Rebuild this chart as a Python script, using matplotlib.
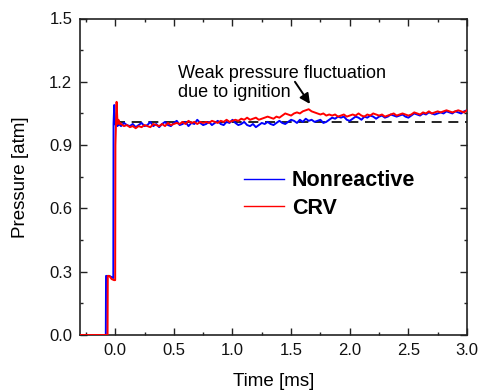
import numpy as np
import matplotlib
matplotlib.use("Agg")
import matplotlib.pyplot as plt
from matplotlib.lines import Line2D

plt.rcParams['font.family'] = ['Liberation Sans', 'DejaVu Sans']

# ---- data ----
# initial step portions (time [ms], pressure [atm])
t_step_nonreactive = [-0.3, -0.08, -0.078, -0.05, -0.016, -0.014, -0.008, -0.002, 0.004, 0.012, 0.02, 0.03, 0.04]
p_step_nonreactive = [0.0, 0.0, 0.28, 0.28, 0.27, 1.0, 1.09, 1.02, 0.995, 1.01, 0.99, 1.005, 0.995]

t_step_crv = [-0.3, -0.065, -0.063, -0.05, -0.03, -0.01, 0.0, 0.002, 0.012, 0.02, 0.028, 0.036, 0.044]
p_step_crv = [0.0, 0.0, 0.28, 0.28, 0.265, 0.26, 0.26, 0.9, 1.105, 1.0, 1.02, 1.0, 1.005]

# sampled portion, 0.05 .. 3.0 ms every 0.025 ms
t_sample = np.linspace(0.05, 3.0, 119)

p_nonreactive = [
    0.99, 1.005, 0.995, 0.99, 1.0, 0.985, 0.995, 1.005, 0.99,
    0.995, 1.01, 0.99, 1.0, 0.985, 1.0, 1.01, 0.995, 0.99, 1.005,
    1.015, 0.995, 1.0, 1.01, 0.99, 1.005, 1.0, 1.02, 1.005, 0.995,
    1.0, 1.01, 0.995, 1.005, 1.015, 1.0, 0.995, 1.01, 1.005, 1.02,
    1.005, 0.995, 1.0, 1.01, 0.995, 0.99, 1.0, 0.985, 0.995, 1.005,
    1.0, 1.01, 1.0, 0.995, 1.005, 1.015, 1.005, 1.0, 1.01, 1.02,
    1.015, 1.005, 1.02, 1.01, 1.025, 1.015, 1.02, 1.01, 1.015, 1.02,
    1.005, 1.01, 1.02, 1.03, 1.025, 1.035, 1.03, 1.035, 1.02, 1.015,
    1.025, 1.035, 1.03, 1.02, 1.035, 1.03, 1.04, 1.035, 1.025, 1.035,
    1.04, 1.03, 1.035, 1.045, 1.04, 1.035, 1.04, 1.045, 1.035, 1.03,
    1.04, 1.05, 1.045, 1.04, 1.05, 1.045, 1.055, 1.05, 1.045, 1.05,
    1.055, 1.05, 1.06, 1.055, 1.05, 1.06, 1.055, 1.05, 1.06, 1.065,
]

p_crv = [
    1.0, 0.99, 0.995, 0.985, 0.99, 0.98, 0.99, 0.985, 0.995,
    0.99, 0.985, 1.0, 0.995, 0.99, 1.0, 0.99, 1.005, 0.995, 1.0,
    1.005, 1.0, 1.01, 1.0, 1.015, 1.005, 1.01, 1.0, 1.01, 1.005,
    1.01, 1.005, 1.015, 1.01, 1.005, 1.015, 1.01, 1.02, 1.01, 1.015,
    1.02, 1.015, 1.025, 1.02, 1.03, 1.02, 1.025, 1.03, 1.02, 1.025,
    1.03, 1.035, 1.03, 1.025, 1.035, 1.03, 1.04, 1.05, 1.045, 1.04,
    1.05, 1.055, 1.05, 1.06, 1.065, 1.07, 1.06, 1.055, 1.05, 1.045,
    1.05, 1.04, 1.045, 1.04, 1.045, 1.035, 1.04, 1.045, 1.035, 1.04,
    1.045, 1.04, 1.05, 1.04, 1.035, 1.045, 1.04, 1.05, 1.045, 1.04,
    1.045, 1.035, 1.04, 1.045, 1.05, 1.04, 1.045, 1.05, 1.045, 1.04,
    1.045, 1.055, 1.05, 1.045, 1.055, 1.05, 1.06, 1.05, 1.055, 1.06,
    1.055, 1.06, 1.065, 1.06, 1.055, 1.06, 1.065, 1.06, 1.055, 1.065,
]

reference_level = 1.01
reference_span = [0.0, 3.0]

series_labels = ["Nonreactive", "CRV"]
series_colors = ["#0000ff", "#ff0000"]

# ---- figure ----
fig = plt.figure(figsize=(4.8, 3.9), dpi=100)
ax = fig.add_axes([80/480, 1-335/390, 387/480, 316.5/390])

ax.plot(reference_span, [reference_level, reference_level], color='black',
        lw=1.2, dashes=(6, 4), zorder=1)

t_nr = np.concatenate([t_step_nonreactive, t_sample])
p_nr = np.concatenate([p_step_nonreactive, p_nonreactive])
t_cr = np.concatenate([t_step_crv, t_sample])
p_cr = np.concatenate([p_step_crv, p_crv])

ax.plot(t_nr, p_nr, color=series_colors[0], lw=1.4, zorder=2)
ax.plot(t_cr, p_cr, color=series_colors[1], lw=1.4, zorder=3)

ax.set_xlim(-0.3, 3.0)
ax.set_ylim(0.0, 1.5)
ax.set_xticks([0.0, 0.5, 1.0, 1.5, 2.0, 2.5, 3.0])
ax.set_xticks([-0.25, 0.25, 0.75, 1.25, 1.75, 2.25, 2.75], minor=True)
ax.set_yticks([0.0, 0.3, 0.6, 0.9, 1.2, 1.5])
ax.set_yticks([0.15, 0.45, 0.75, 1.05, 1.35], minor=True)
ax.xaxis.set_major_formatter(matplotlib.ticker.FormatStrFormatter('%.1f'))
ax.yaxis.set_major_formatter(matplotlib.ticker.FormatStrFormatter('%.1f'))

ax.tick_params(which='both', direction='in', top=True, right=True,
               color='#222222', width=1.0, labelsize=12, labelcolor='#111111')
ax.tick_params(which='major', length=5, pad=5.5)
ax.tick_params(which='minor', length=2.5)
for s in ax.spines.values():
    s.set_linewidth(1.2)
    s.set_color('#222222')

ax.set_xlabel("Time [ms]", fontsize=13.5, labelpad=11)
ax.set_ylabel("Pressure [atm]", fontsize=13.5, labelpad=14.5)

ax.text(0.537, 1.13, "Weak pressure fluctuation\ndue to ignition",
        fontsize=13, ha='left', va='baseline', linespacing=1.15)
ax.annotate("", xy=(1.661, 1.095), xytext=(1.533, 1.2),
            arrowprops=dict(arrowstyle='-|>', color='black', lw=1.4,
                            mutation_scale=15, shrinkA=0, shrinkB=0))

handles = [Line2D([], [], color=c, lw=1.0) for c in series_colors]
leg = ax.legend(handles, series_labels, loc='upper left',
                bbox_to_anchor=(0.425, 0.52), frameon=False,
                prop={'weight': 'bold', 'size': 15.5},
                handlelength=1.85, handletextpad=0.35, labelspacing=0.3,
                borderpad=0, borderaxespad=0)

fig.savefig("out.png", dpi=100)
